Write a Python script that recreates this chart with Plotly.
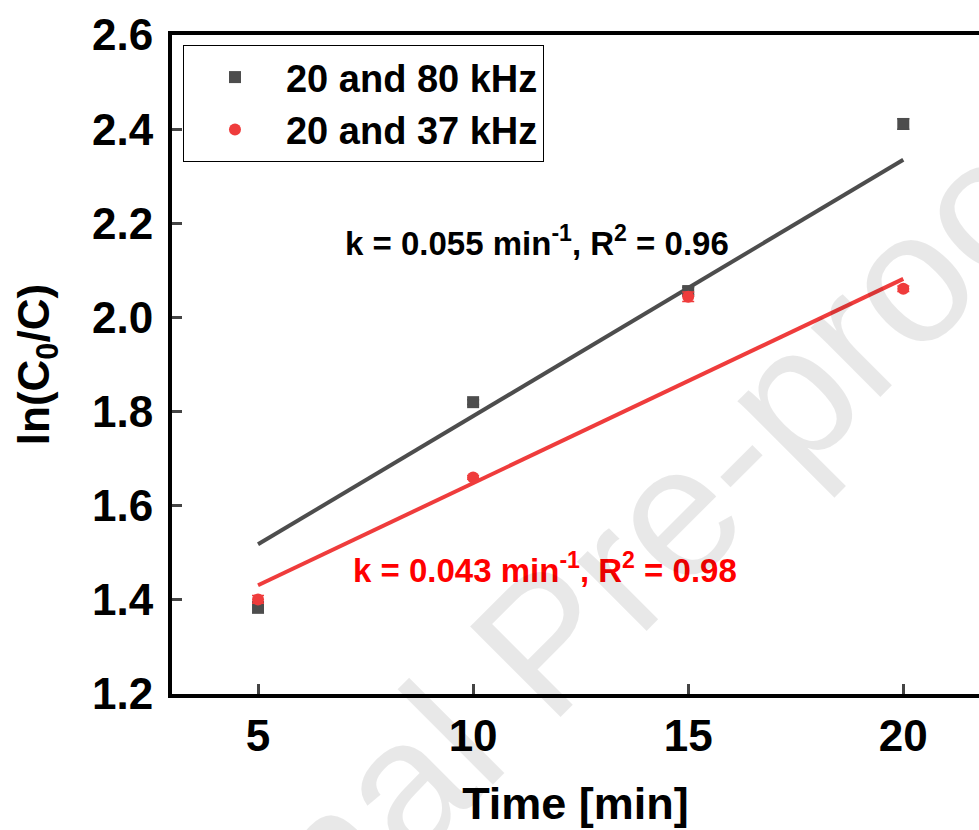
import plotly.graph_objects as go

# ---- data ----
time_min = [5, 10, 15, 20]
ln_80 = [1.384, 1.820, 2.056, 2.411]
err_80 = [0.012, 0.005, 0.008, 0.011]
ln_37 = [1.401, 1.660, 2.044, 2.061]
err_37 = [0.008, 0.004, 0.010, 0.006]

fit_x = [5, 20]
fit_80 = [1.518, 2.335]
fit_37 = [1.431, 2.082]

name_80 = "20 and 80 kHz"
name_37 = "20 and 37 kHz"
label_80 = "k = 0.055 min<sup>-1</sup>, R<sup>2</sup> = 0.96"
label_37 = "k = 0.043 min<sup>-1</sup>, R<sup>2</sup> = 0.98"
watermark = "Journal Pre-proof"

x_ticks = [5, 10, 15, 20]
y_ticks = [1.2, 1.4, 1.6, 1.8, 2.0, 2.2, 2.4, 2.6]

C_BLACK = "#4d4d4d"
C_RED = "#ef3c3c"
FONT = "Liberation Sans, Arial, sans-serif"

fig = go.Figure()

fig.add_trace(go.Scatter(x=fit_x, y=fit_80, mode="lines",
                         line=dict(color=C_BLACK, width=4), showlegend=False, hoverinfo="skip"))
fig.add_trace(go.Scatter(x=fit_x, y=fit_37, mode="lines",
                         line=dict(color=C_RED, width=4), showlegend=False, hoverinfo="skip"))

fig.add_trace(go.Scatter(x=time_min, y=ln_80, mode="markers", name=name_80,
                         marker=dict(symbol="square", size=12, color=C_BLACK),
                         error_y=dict(type="data", array=err_80, color=C_BLACK, thickness=1.5, width=6)))
fig.add_trace(go.Scatter(x=time_min, y=ln_37, mode="markers", name=name_37,
                         marker=dict(symbol="circle", size=12, color=C_RED),
                         error_y=dict(type="data", array=err_37, color=C_RED, thickness=1.5, width=6)))

fig.add_annotation(x=11.48, y=2.163, xref="x", yref="y", text=label_80, showarrow=False,
                   font=dict(family=FONT, size=33, color="black", weight="bold"))
fig.add_annotation(x=11.66, y=1.468, xref="x", yref="y", text=label_37, showarrow=False,
                   font=dict(family=FONT, size=33, color="#ff0000", weight="bold"))

fig.add_annotation(x=0.462, y=0.079, xref="paper", yref="paper", text=watermark,
                   showarrow=False, textangle=-45, xanchor="center", yanchor="middle",
                   font=dict(family=FONT, size=186, color="rgba(0,0,0,0.09)"))

fig.update_layout(
    width=979, height=830,
    margin=dict(l=172, r=0, t=35, b=136),
    plot_bgcolor="white", paper_bgcolor="white",
    font=dict(family=FONT, color="black"),
    showlegend=True,
    legend=dict(x=0.0136, y=0.985, xanchor="left", yanchor="top",
                bgcolor="white", bordercolor="black", borderwidth=1,
                itemwidth=92,
                font=dict(family=FONT, size=38, color="black", weight="bold")),
    xaxis=dict(range=[3.0, 21.76], tickvals=x_ticks, ticks="inside", ticklen=10, tickwidth=3,
               showline=True, linewidth=4, linecolor="black", mirror=True,
               showgrid=False, zeroline=False,
               tickfont=dict(family=FONT, size=44, color="black", weight="bold"),
               title=dict(text="Time [min]", standoff=30,
                          font=dict(family=FONT, size=45, color="black", weight="bold"))),
    yaxis=dict(range=[1.2, 2.6], tickvals=y_ticks, tickformat=".1f", ticks="inside",
               ticklen=10, tickwidth=3,
               showline=True, linewidth=4, linecolor="black", mirror=False,
               showgrid=False, zeroline=False, ticklabelstandoff=6,
               tickfont=dict(family=FONT, size=44, color="black", weight="bold"),
               title=dict(text="ln(C<sub>0</sub>/C)", standoff=30,
                          font=dict(family=FONT, size=44, color="black", weight="bold"))),
)

fig.write_html("out.html", config={"displayModeBar": False},
               post_script="document.body.style.margin='0px';document.body.style.overflow='hidden';")
